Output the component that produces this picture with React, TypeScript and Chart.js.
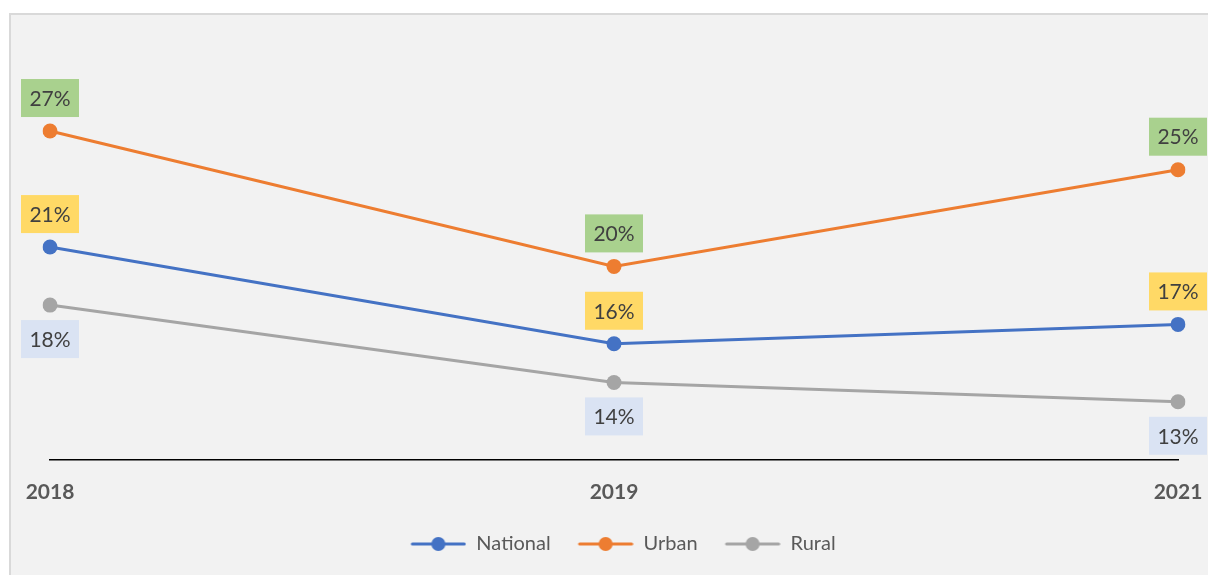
import React, { useEffect, useRef } from "react";
import { Chart, registerables } from "chart.js";

Chart.register(...registerables);

const categories = ["2018", "2019", "2021"];
const nationalValues = [21, 16, 17];
const urbanValues = [27, 20, 25];
const ruralValues = [18, 14, 13];
const seriesNames = ["National", "Urban", "Rural"];
const seriesColors = ["#4472C4", "#ED7D31", "#A5A5A5"];
const labelBoxColors = ["#FFD966", "#A9D18E", "#DAE3F3"];
const labelPlacement = ["above", "above", "below"];

const FONT = "Lato, 'Open Sans', sans-serif";

function makeLegendMarker(color: string) {
  const c = document.createElement("canvas");
  c.width = 74;
  c.height = 16;
  const ctx = c.getContext("2d")!;
  ctx.strokeStyle = color;
  ctx.lineWidth = 3;
  ctx.lineCap = "round";
  ctx.beginPath();
  ctx.moveTo(20, 8);
  ctx.lineTo(72, 8);
  ctx.stroke();
  ctx.fillStyle = color;
  ctx.beginPath();
  ctx.arc(46, 8, 7, 0, Math.PI * 2);
  ctx.fill();
  return c;
}

const dataLabelPlugin = {
  id: "boxLabels",
  afterDatasetsDraw(chart: any) {
    const ctx = chart.ctx;
    ctx.save();
    ctx.font = `21px ${FONT}`;
    ctx.textAlign = "center";
    ctx.textBaseline = "middle";
    chart.data.datasets.forEach((ds: any, i: number) => {
      const meta = chart.getDatasetMeta(i);
      meta.data.forEach((pt: any, j: number) => {
        const text = ds.data[j] + "%";
        const w = 58;
        const h = 38;
        const cy = labelPlacement[i] === "above" ? pt.y - 33 : pt.y + 34;
        ctx.fillStyle = labelBoxColors[i];
        ctx.fillRect(pt.x - w / 2, cy - h / 2, w, h);
        ctx.fillStyle = "#404040";
        ctx.fillText(text, pt.x, cy + 1);
      });
    });
    ctx.restore();
  },
};

export default function App() {
  const ref = useRef<HTMLCanvasElement | null>(null);
  useEffect(() => {
    if (!ref.current) return;
    const markers = seriesColors.map(makeLegendMarker);
    const values = [nationalValues, urbanValues, ruralValues];
    const chart = new Chart(ref.current, {
      type: "line",
      data: {
        labels: categories,
        datasets: seriesNames.map((name, i) => ({
          label: name,
          data: values[i],
          borderColor: seriesColors[i],
          backgroundColor: seriesColors[i],
          pointBackgroundColor: seriesColors[i],
          pointBorderColor: seriesColors[i],
          pointBorderWidth: 0,
          pointRadius: 7.5,
          borderWidth: 3,
          tension: 0,
        })),
      },
      options: {
        animation: false,
        responsive: false,
        maintainAspectRatio: false,
        layout: { padding: { left: 39, right: 49, top: 58, bottom: 27 } },
        scales: {
          x: {
            offset: false,
            grid: { display: false, drawTicks: false },
            border: { display: true, color: "#000000", width: 1.5 },
            ticks: {
              color: "#595959",
              font: { family: FONT, size: 21, weight: "bold" },
              padding: 20,
              maxRotation: 0,
            },
            afterFit: (scale: any) => {
              scale.paddingLeft = 0;
              scale.paddingRight = 0;
            },
          },
          y: {
            display: false,
            min: 10,
            max: 30,
          },
        },
        plugins: {
          tooltip: { enabled: false },
          legend: {
            position: "bottom",
            labels: {
              usePointStyle: true,
              pointStyleWidth: 74,
              boxHeight: 16,
              color: "#595959",
              font: { family: FONT, size: 20 },
              padding: 9,
              generateLabels: (c: any) =>
                (Chart.defaults.plugins.legend.labels as any)
                  .generateLabels(c)
                  .map((l: any, i: number) => ({ ...l, pointStyle: markers[i] })),
            },
          },
        },
      },
      plugins: [dataLabelPlugin],
    } as any);
    return () => chart.destroy();
  }, []);

  return (
    <div
      style={{
        position: "fixed",
        left: 0,
        top: 0,
        width: 1208,
        height: 575,
        overflow: "hidden",
        background: "#ffffff",
      }}
    >
      <div
        style={{
          position: "absolute",
          left: 9,
          top: 13,
          width: 1220,
          height: 580,
          boxSizing: "border-box",
          border: "2px solid #d9d9d9",
          background: "#f2f2f2",
        }}
      >
        <canvas
          ref={ref}
          width={1216}
          height={576}
          style={{ display: "block", width: 1216, height: 576 }}
        />
      </div>
    </div>
  );
}
